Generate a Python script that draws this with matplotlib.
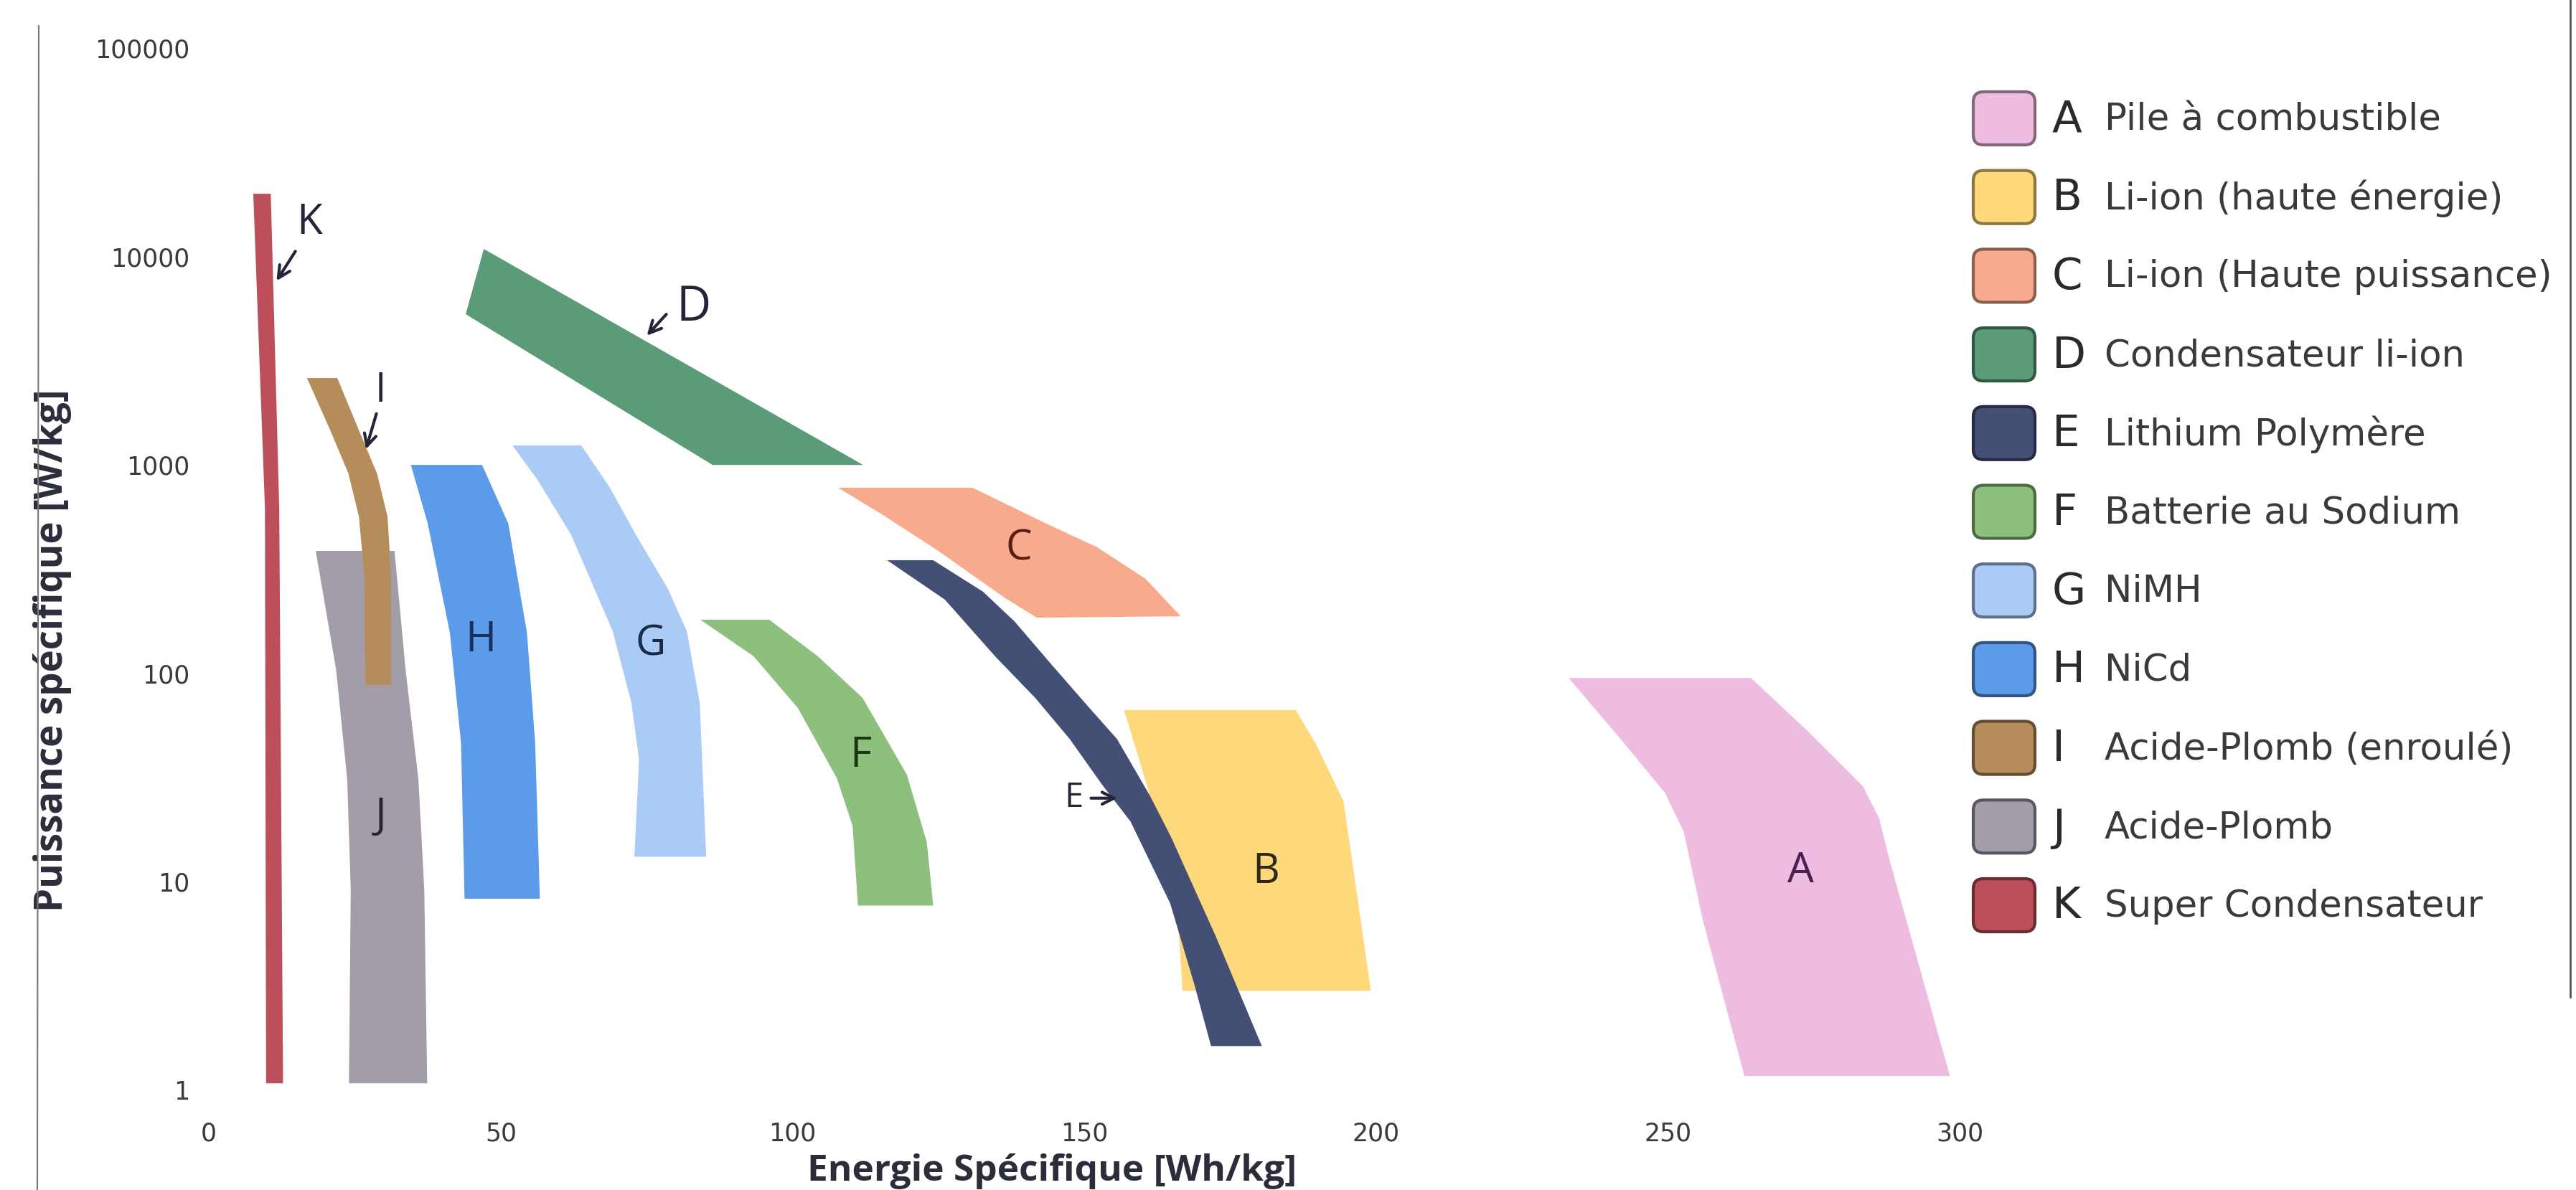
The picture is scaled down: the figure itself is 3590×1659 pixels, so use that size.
import numpy as np
import matplotlib.pyplot as plt
import matplotlib.colors as mcolors
from matplotlib.patches import FancyBboxPatch
from matplotlib.lines import Line2D
from matplotlib.ticker import NullLocator

# outlines of each region, energy [Wh/kg] and power [W/kg]
a_energy = [233.0, 264.2, 273.6, 283.4, 286.2, 287.8, 298.3, 263.1, 256.0, 252.7, 249.5, 242.3]
a_power = [95, 95, 54, 28.7, 20.1, 13.2, 1.17, 1.17, 6.5, 17.4, 26.7, 46.9]

b_energy = [156.8, 186.2, 189.6, 194.4, 199.1, 166.8, 166.1, 160.9]
b_power = [66.7, 66.7, 46.3, 24.4, 3.0, 3.0, 6.2, 27.9]

c_energy = [107.8, 130.8, 144.0, 152.2, 160.5, 166.5, 141.9, 136.4, 124.8, 115.5]
c_power = [778, 778, 515, 403, 284, 188, 185, 230, 390, 575]

d_energy = [47.1, 112.1, 86.3, 44.0]
d_power = [10870, 1000, 1000, 5288]

e_energy = [124.1, 132.6, 138.0, 144.4, 150.6, 155.6, 161.3, 164.9, 172.5, 180.4,
            171.7, 168.9, 164.7, 157.9, 153.1, 147.5, 141.6, 134.8, 126.1, 116.2]
e_power = [349, 247, 178, 110, 69.6, 48.4, 25.7, 16.3, 5.49, 1.63,
           1.63, 3.18, 7.89, 19.5, 29.1, 48.4, 76.2, 120, 226, 349]

f_energy = [84.2, 96.0, 104.3, 112.0, 119.6, 123.0, 124.1, 111.2, 110.3, 107.6, 100.9, 93.3]
f_power = [181, 181, 121, 76.3, 32.6, 15.5, 7.7, 7.7, 18.5, 31.4, 68.3, 121]

g_energy = [63.8, 68.7, 73.2, 78.6, 81.9, 84.1, 85.2, 72.9, 73.7, 72.4, 69.2, 62.1, 56.4, 52.0]
g_power = [1241, 778, 460, 256, 159, 72.1, 13.2, 13.2, 38.3, 72.1, 159, 460, 841, 1241]

h_energy = [46.8, 51.3, 54.5, 55.9, 56.7, 43.8, 43.2, 41.3, 37.5, 34.6]
h_power = [1001, 523, 156, 46.3, 8.3, 8.3, 46.3, 156, 523, 1001]

i_energy = [22.0, 25.7, 28.8, 30.6, 31.2, 31.2, 26.8, 26.6, 25.7, 23.9, 20.8, 16.8]
i_power = [2612, 1466, 910, 566, 300, 88, 88, 300, 566, 910, 1466, 2612]

j_energy = [31.8, 33.7, 35.9, 36.9, 37.4, 24.0, 24.3, 23.7, 21.8, 18.3]
j_power = [387, 104, 30.9, 9.2, 1.08, 1.08, 9.2, 30.9, 104, 387]

k_energy = [10.6, 12.05, 12.7, 9.8, 9.6, 7.6]
k_power = [20000, 620, 1.08, 1.08, 620, 20000]

letters = ["A", "B", "C", "D", "E", "F", "G", "H", "I", "J", "K"]
names = ["Pile à combustible", "Li-ion (haute énergie)", "Li-ion (Haute puissance)",
         "Condensateur li-ion", "Lithium Polymère", "Batterie au Sodium", "NiMH", "NiCd",
         "Acide-Plomb (enroulé)", "Acide-Plomb", "Super Condensateur"]
colors = ["#EDBCE0", "#FDD97C", "#F8AB8C", "#5A9C78", "#434F74", "#8DC07C",
          "#AACBF6", "#5B9BEA", "#B58D5A", "#A39DAA", "#BC4F5A"]

shapes = [(a_energy, a_power), (b_energy, b_power), (c_energy, c_power),
          (d_energy, d_power), (e_energy, e_power), (f_energy, f_power),
          (g_energy, g_power), (h_energy, h_power), (i_energy, i_power),
          (j_energy, j_power), (k_energy, k_power)]

fig = plt.figure(figsize=(35.9, 16.59), dpi=100)
fig.patch.set_facecolor("white")

ax = fig.add_axes([0.0811, 0.0838, 0.6797, 0.8758])
ax.set_yscale("log")
ax.set_xlim(0, 300)
ax.set_ylim(1, 100000)
ax.patch.set_alpha(0)

for n, ((e, p), c) in enumerate(zip(shapes, colors)):
    z = 3 if letters[n] == "I" else 2
    ax.fill(e, p, color=c, lw=0, zorder=z)

# letters inside the regions
inside = {"A": (272.7, 11.2, "#4B2050"), "B": (181.1, 11.1, "#2E2A12"),
          "C": (138.8, 396, "#5A1E12"), "F": (111.7, 40.2, "#1E3418"),
          "G": (75.7, 138, "#1A2B48"), "H": (46.6, 144, "#18305A"),
          "J": (29.4, 20.6, "#2A2530")}
for k, (x, y, tc) in inside.items():
    ax.text(x, y, k, fontsize=42, family="Open Sans", color=tc,
            ha="center", va="center", zorder=5)

# letters with arrows
arrow_style = dict(arrowstyle="->", color="#25253a", lw=3, mutation_scale=30)
ax.text(17.2, 14460, "K", fontsize=42, family="Open Sans", color="#25253a",
        ha="center", va="center", zorder=5)
ax.annotate("", xy=(11.4, 7500), xytext=(15.0, 10790), arrowprops=arrow_style, zorder=5)
ax.text(83.0, 5680, "D", fontsize=48, family="Open Sans", color="#25253a",
        ha="center", va="center", zorder=5)
ax.annotate("", xy=(74.8, 4105), xytext=(78.6, 5370), arrowprops=arrow_style, zorder=5)
ax.text(29.4, 2249, "I", fontsize=40, family="Open Sans", color="#25253a",
        ha="center", va="center", zorder=5)
ax.annotate("", xy=(26.8, 1164), xytext=(28.8, 1800), arrowprops=arrow_style, zorder=5)
ax.text(148.2, 25.2, "E", fontsize=34, family="Open Sans", color="#25253a",
        ha="center", va="center", zorder=5)
ax.annotate("", xy=(156.0, 25.2), xytext=(150.8, 25.2), arrowprops=arrow_style, zorder=5)

ax.set_xticks(range(0, 301, 50))
ax.set_yticks([1, 10, 100, 1000, 10000, 100000])
ax.set_yticklabels(["1", "10", "100", "1000", "10000", "100000"])
ax.yaxis.set_minor_locator(NullLocator())
ax.tick_params(length=0, labelsize=25, colors="#3a3a3a")
ax.tick_params(axis="x", pad=31)
ax.tick_params(axis="y", pad=19)
for s in ax.spines.values():
    s.set_visible(False)

ax.set_xlabel("Energie Spécifique [Wh/kg]", fontsize=37, fontweight="bold",
              family="Open Sans", color="#2b2d3a", va="center")
ax.xaxis.set_label_coords(0.4816, -0.0775)
ax.set_ylabel("Puissance spécifique [W/kg]", fontsize=38, fontweight="bold",
              family="Open Sans", color="#2b2d3a", va="center", ha="center")
ax.yaxis.set_label_coords(-0.0893, 0.4219)

# overlay in pixel units for the legend and the slide border
ov = fig.add_axes([0, 0, 1, 1])
ov.set_xlim(0, 3590)
ov.set_ylim(1659, 0)
ov.set_axis_off()

for n, (l, name, c) in enumerate(zip(letters, names, colors)):
    yc = 165 + n * 109.7
    edge = np.array(mcolors.to_rgb(c)) * 0.55
    ov.add_patch(FancyBboxPatch((2750, yc - 37), 86, 74,
                                boxstyle="round,pad=0,rounding_size=14",
                                facecolor=c, edgecolor=edge, lw=3))
    ov.text(2860, yc + 2, l, fontsize=44, color="#2a2a2a", ha="left", va="center")
    ov.text(2933, yc + 2, name, fontsize=37, color="#3a3a3a", ha="left", va="center")

ov.add_line(Line2D([54, 52], [36, 1659], color="#777777", lw=1.5))
ov.add_line(Line2D([3582, 3582], [0, 1390], color="#555555", lw=2))

fig.savefig("out.png", dpi=100)
